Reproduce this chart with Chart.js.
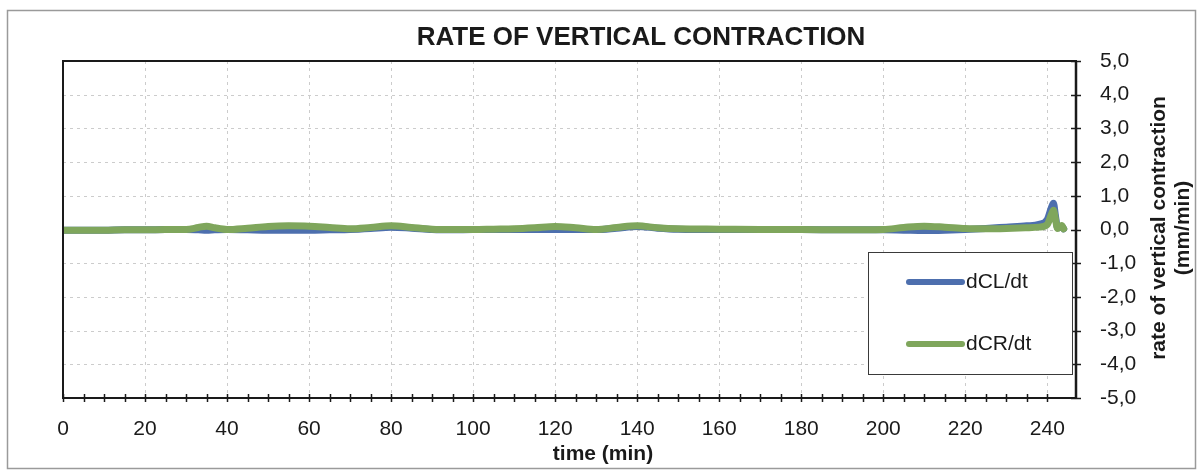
<!DOCTYPE html>
<html>
<head>
<meta charset="utf-8">
<script src="https://cdn.jsdelivr.net/npm/chart.js@4.4.1/dist/chart.umd.min.js"></script>
<style>
  html, body { margin: 0; padding: 0; background: #ffffff; }
  #wrap { width: 1199px; height: 471px; }
</style>
</head>
<body>
<div id="wrap"><canvas id="c" width="1199" height="471"></canvas></div>
<script>
// ---- data ----
const chartTitle = 'RATE OF VERTICAL CONTRACTION';
const xTitle = 'time (min)';
const yTitleLines = ['rate of vertical contraction', '(mm/min)'];
const seriesNames = ['dCL/dt', 'dCR/dt'];

const timeMin = [0,5,10,15,20,25,30,33,35,37,40,45,50,55,60,65,70,75,80,85,90,95,100,105,110,115,120,125,130,135,140,145,150,160,170,180,190,200,205,210,215,220,225,230,235,238,240,241,241.5,242,242.5,243,243.5,244];

const dCL = [-0.02,-0.02,-0.02,-0.01,-0.01,0.00,0.00,-0.01,-0.02,-0.01,0.00,-0.01,-0.02,-0.02,-0.02,-0.01,0.00,0.03,0.07,0.04,0.00,-0.01,0.00,0.00,0.00,0.00,0.00,0.00,0.00,0.04,0.09,0.04,0.01,0.00,0.00,0.00,-0.01,-0.01,-0.02,-0.03,-0.02,0.00,0.03,0.07,0.11,0.15,0.30,0.65,0.78,0.40,0.05,0.06,0.10,0.02];

const dCR = [-0.02,-0.02,-0.02,-0.01,-0.01,0.00,0.00,0.06,0.10,0.05,0.00,0.04,0.09,0.11,0.10,0.06,0.02,0.06,0.11,0.06,0.01,0.00,0.00,0.01,0.02,0.05,0.09,0.05,0.00,0.06,0.11,0.05,0.02,0.01,0.00,0.00,-0.01,0.00,0.06,0.10,0.07,0.03,0.02,0.03,0.05,0.07,0.15,0.45,0.57,0.30,0.03,0.08,0.12,0.02];

const xMin = 0, xMax = 247, xMinorStep = 5, xLabelStep = 20;
const yMin = -5, yMax = 5, yStep = 1;

const colBlue = '#4d6fae';
const colGreen = '#7fa65c';
const FONT = '"Liberation Sans", Arial, sans-serif';

// ---- drawing helpers ----
const decor = {
  id: 'decor',
  beforeDraw(chart) {
    const ctx = chart.ctx;
    ctx.save();
    ctx.fillStyle = '#ffffff';
    ctx.fillRect(0, 0, chart.width, chart.height);
    ctx.restore();
  },
  beforeDatasetsDraw(chart) {
    const ctx = chart.ctx, a = chart.chartArea;
    const xs = chart.scales.x, ys = chart.scales.y;
    ctx.save();
    ctx.strokeStyle = '#cccccc';
    ctx.lineWidth = 1;
    ctx.setLineDash([3, 4]);
    xs.ticks.forEach(t => {
      if (t.value % xLabelStep === 0 && t.value > xMin && t.value < xMax) {
        const px = Math.round(xs.getPixelForValue(t.value)) + 0.5;
        ctx.beginPath(); ctx.moveTo(px, a.top); ctx.lineTo(px, a.bottom); ctx.stroke();
      }
    });
    ys.ticks.forEach(t => {
      if (t.value > yMin && t.value < yMax) {
        const py = Math.round(ys.getPixelForValue(t.value)) + 0.5;
        ctx.beginPath(); ctx.moveTo(a.left, py); ctx.lineTo(a.right, py); ctx.stroke();
      }
    });
    ctx.restore();
  },
  afterDraw(chart) {
    const ctx = chart.ctx, a = chart.chartArea;
    const xs = chart.scales.x, ys = chart.scales.y;
    ctx.save();
    // outer scanned-page frame
    ctx.strokeStyle = '#9a9a9a';
    ctx.lineWidth = 1.5;
    ctx.strokeRect(7.5, 10.5, 1188, 458);

    // plot frame
    ctx.strokeStyle = '#1a1a1a';
    ctx.lineWidth = 2;
    ctx.strokeRect(a.left, a.top, a.right - a.left, a.bottom - a.top);
    ctx.lineWidth = 2.5;
    ctx.beginPath(); ctx.moveTo(a.right, a.top); ctx.lineTo(a.right, a.bottom); ctx.stroke();

    // crossing tick marks
    ctx.lineWidth = 1.5;
    xs.ticks.forEach(t => {
      if (t.value % xMinorStep !== 0) return;
      const px = Math.round(xs.getPixelForValue(t.value)) + 0.5;
      ctx.beginPath(); ctx.moveTo(px, a.bottom - 4); ctx.lineTo(px, a.bottom + 4); ctx.stroke();
    });
    ys.ticks.forEach(t => {
      const py = Math.round(ys.getPixelForValue(t.value)) + 0.5;
      ctx.beginPath(); ctx.moveTo(a.right - 5, py); ctx.lineTo(a.right + 5, py); ctx.stroke();
    });

    // title
    ctx.fillStyle = '#1a1a1a';
    ctx.textAlign = 'center';
    ctx.textBaseline = 'middle';
    ctx.font = 'bold 26px ' + FONT;
    ctx.fillText(chartTitle, 641, 38);

    // x title
    ctx.font = 'bold 21px ' + FONT;
    ctx.fillText(xTitle, 603, 454);

    // y title (two lines, reading bottom to top)
    const yOffsets = [1159, 1183];
    yTitleLines.forEach((s, i) => {
      ctx.save();
      ctx.translate(yOffsets[i], 228);
      ctx.rotate(-Math.PI / 2);
      ctx.fillText(s, 0, 0);
      ctx.restore();
    });

    // legend box
    ctx.fillStyle = '#ffffff';
    ctx.fillRect(868, 252, 204, 122);
    ctx.strokeStyle = '#3a3a3a';
    ctx.lineWidth = 1;
    ctx.strokeRect(868.5, 252.5, 204, 122);
    const items = [
      {name: seriesNames[0], color: colBlue, y: 282},
      {name: seriesNames[1], color: colGreen, y: 344}
    ];
    items.forEach(it => {
      ctx.strokeStyle = it.color;
      ctx.lineWidth = 6;
      ctx.lineCap = 'round';
      ctx.beginPath(); ctx.moveTo(909, it.y); ctx.lineTo(962, it.y); ctx.stroke();
      ctx.fillStyle = '#1a1a1a';
      ctx.font = '21px ' + FONT;
      ctx.textAlign = 'left';
      ctx.textBaseline = 'middle';
      ctx.fillText(it.name, 966, it.y);
    });
    ctx.restore();
  }
};

const toXY = (xs, ys) => xs.map((x, i) => ({x: x, y: ys[i]}));

new Chart(document.getElementById('c'), {
  type: 'line',
  data: {
    datasets: [
      {
        label: seriesNames[0],
        data: toXY(timeMin, dCL),
        borderColor: colBlue,
        backgroundColor: colBlue,
        borderWidth: 7,
        pointRadius: 0,
        cubicInterpolationMode: 'monotone',
        borderCapStyle: 'round',
        borderJoinStyle: 'round',
        order: 1
      },
      {
        label: seriesNames[1],
        data: toXY(timeMin, dCR),
        borderColor: colGreen,
        backgroundColor: colGreen,
        borderWidth: 7,
        pointRadius: 0,
        cubicInterpolationMode: 'monotone',
        borderCapStyle: 'round',
        borderJoinStyle: 'round',
        order: 0
      }
    ]
  },
  options: {
    responsive: false,
    animation: false,
    devicePixelRatio: 1,
    layout: { padding: { left: 63, top: 61, right: 0, bottom: 0 } },
    plugins: {
      legend: { display: false },
      title: { display: false },
      tooltip: { enabled: false }
    },
    scales: {
      x: {
        type: 'linear',
        position: 'bottom',
        min: xMin,
        max: xMax,
        grid: { display: false },
        border: { display: false },
        ticks: {
          stepSize: xMinorStep,
          autoSkip: false,
          maxRotation: 0,
          minRotation: 0,
          padding: 11,
          color: '#1a1a1a',
          font: { family: FONT, size: 21 },
          callback: (v) => (v % xLabelStep === 0 ? String(v) : '')
        },
        afterFit: (s) => { s.height = 73; }
      },
      y: {
        type: 'linear',
        position: 'right',
        min: yMin,
        max: yMax,
        grid: { display: false },
        border: { display: false },
        ticks: {
          stepSize: yStep,
          padding: 16,
          color: '#1a1a1a',
          font: { family: FONT, size: 21 },
          callback: (v) => v.toFixed(1).replace('.', ',')
        },
        afterFit: (s) => { s.width = 123; }
      }
    }
  },
  plugins: [decor]
});
</script>
</body>
</html>
